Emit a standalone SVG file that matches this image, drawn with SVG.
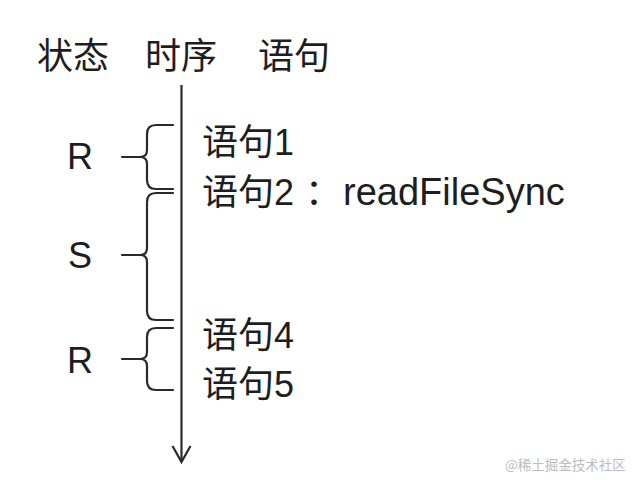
<svg xmlns="http://www.w3.org/2000/svg" width="640" height="487" viewBox="0 0 640 487">
<style>
.t{font-family:"Liberation Sans","Noto Sans CJK SC",sans-serif;fill:#1e1e1e;font-size:36px}
.lbl{font-family:"Liberation Sans","Noto Sans CJK SC",sans-serif;fill:#1e1e1e;font-size:36px}
.br{fill:none;stroke:#2a2a2a;stroke-width:2.2;stroke-linejoin:round;stroke-linecap:round}
.ln{fill:none;stroke:#2a2a2a;stroke-width:2.2}
.wm{font-family:"Noto Sans CJK SC",sans-serif;fill:#bdbdbd;font-size:13.5px}
</style>
<rect width="640" height="487" fill="#ffffff"/>
<g id="header">
<text class="t" x="37" y="69">状态</text>
<text class="t" x="145" y="69">时序</text>
<text class="t" x="258" y="69">语句</text>
</g>
<g id="connectors">
<line id="timeline" class="ln" x1="181.5" y1="85" x2="181.5" y2="461"/>
<path id="timeline-head" class="ln" d="M172.5,446 L181.5,462 L190.5,446"/>
<path id="brace-r1" class="br" d="M173,125 L156,125 Q147,125 147,134 L147,150 Q147,157 140,157 L122,157 M140,157 Q147,157 147,164 L147,180 Q147,189 156,189 L173,189"/>
<path id="brace-s" class="br" d="M173,193 L156,193 Q147,193 147,202 L147,248 Q147,255 140,255 L122,255 M140,255 Q147,255 147,262 L147,311 Q147,320 156,320 L173,320"/>
<path id="brace-r2" class="br" d="M173,328 L156,328 Q147,328 147,337 L147,352 Q147,359 140,359 L122,359 M140,359 Q147,359 147,366 L147,381 Q147,390 156,390 L173,390"/>
</g>
<g id="state-r1"><text class="lbl" x="67" y="169">R</text></g>
<g id="state-s"><text class="lbl" x="68" y="268">S</text></g>
<g id="state-r2"><text class="lbl" x="67" y="373">R</text></g>
<g id="stmt1"><text class="t" x="202" y="155">语句1</text></g>
<g id="stmt2"><text class="t" x="202" y="205">语句2<tspan x="305">：</tspan><tspan x="343" style="font-size:38px">readFileSync</tspan></text></g>
<g id="stmt4"><text class="t" x="202" y="348">语句4</text></g>
<g id="stmt5"><text class="t" x="202" y="397">语句5</text></g>
<text class="wm" x="505" y="470">@稀土掘金技术社区</text>
</svg>
